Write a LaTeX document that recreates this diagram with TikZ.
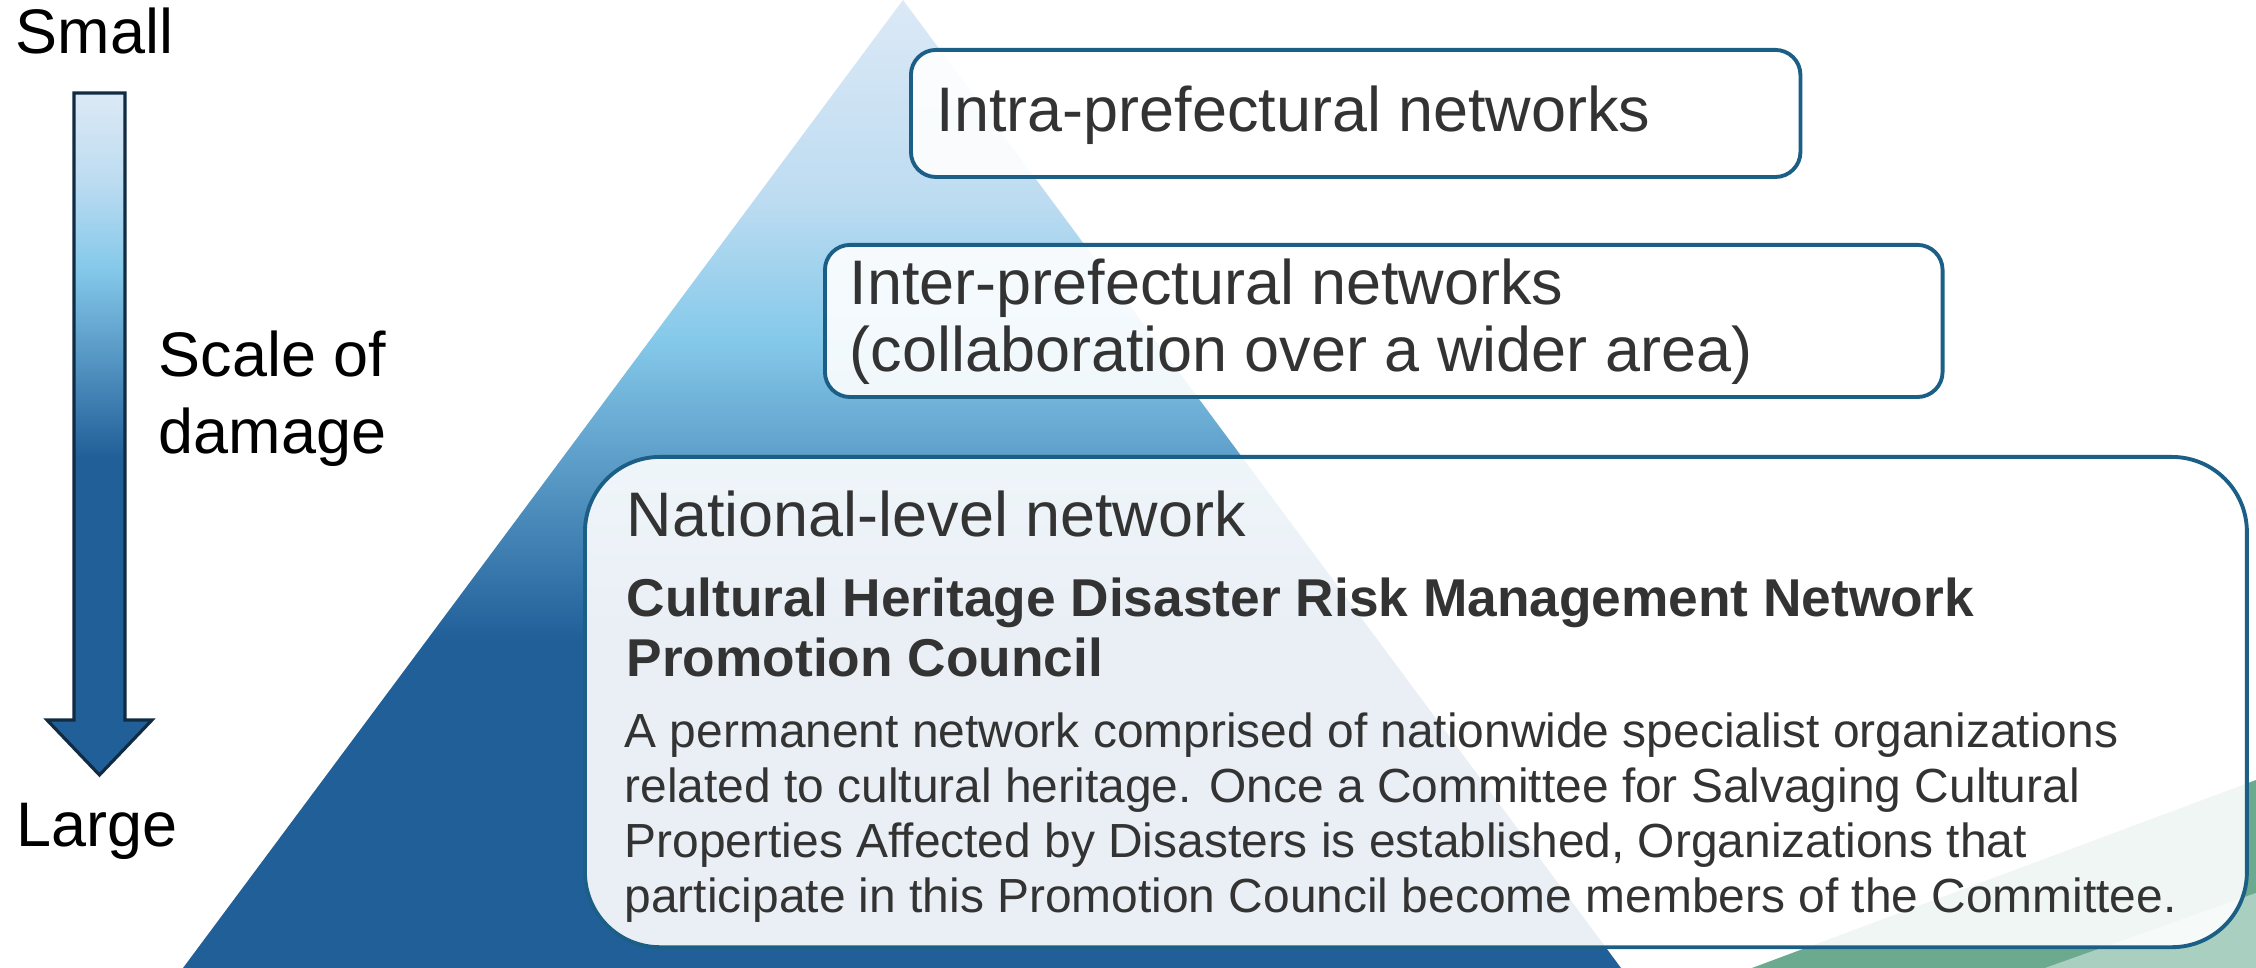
\documentclass[tikz,border=0pt]{standalone}
\usepackage{fontspec}
\setmainfont{Liberation Sans}

\definecolor{pyrtop}{HTML}{DCE9F6}
\definecolor{pyrpale}{HTML}{BDDCF1}
\definecolor{pyrsky}{HTML}{85C9EA}
\definecolor{pyrdark}{HTML}{215F99}
\definecolor{boxline}{HTML}{1B5F87}
\definecolor{arrline}{HTML}{102B42}
\definecolor{greendark}{HTML}{6BAA8F}
\definecolor{greenlight}{HTML}{A9CFC0}
\definecolor{textgray}{HTML}{333333}

\pgfdeclareverticalshading{pyramid}{100bp}{color(0bp)=(pyrdark); color(42bp)=(pyrdark);
  color(57.5bp)=(pyrsky); color(64.7bp)=(pyrpale); color(75bp)=(pyrtop); color(100bp)=(pyrtop)}
\pgfdeclareverticalshading{damage}{100bp}{color(0bp)=(pyrdark); color(48.3bp)=(pyrdark);
  color(62.2bp)=(pyrsky); color(68.6bp)=(pyrpale); color(75bp)=(pyrtop); color(100bp)=(pyrtop)}

\begin{document}
\begin{tikzpicture}[
  x=0.01cm, y=-0.01cm,
  netbox/.style={draw=boxline, line width=1.1pt, fill=white, fill opacity=0.9,
    rounded corners=0.25cm, anchor=north west, inner sep=0pt},
  boxtext/.style={anchor=base west, inner sep=0pt, text=textgray},
  sidetext/.style={anchor=base west, inner sep=0pt, font=\fontsize{17.9pt}{21.9pt}\selectfont},
  headfont/.style={font=\fontsize{17.9pt}{19.1pt}\selectfont}
]
\useasboundingbox (0,0) rectangle (2256,968);

\shade[shading=pyramid] (903,0) -- (1621,968) -- (183,968) -- cycle;
\fill[greendark] (2256,780) -- (2256,968) -- (1752,968) -- cycle;
\fill[greenlight] (2256,893) -- (2256,968) -- (2045,968) -- cycle;

% scale arrow
\shade[shading=damage, draw=arrline, line width=0.9pt]
  (74,93) -- (125,93) -- (125,720) -- (152,720) -- (99.5,775) -- (47,720) -- (74,720) -- cycle;
\node[sidetext] (small) at (15,54) {Small};
\node[sidetext] (large) at (16,847) {Large};
% multi-line nodes sit on their last baseline
\node[sidetext, align=left] (scale) at (158,454) {Scale of\\damage};

\node[netbox, minimum width=8.89cm, minimum height=1.27cm] (intra) at (909,48) {};
\node[netbox, minimum width=11.17cm, minimum height=1.52cm] (inter) at (823,243) {};
\node[netbox, rounded corners=0.75cm, minimum width=16.61cm, minimum height=4.9cm] (national) at (583,455) {};

\node[boxtext, headfont] (intratext) at ([shift={(27,84)}]intra.north west)
  {Intra-prefectural networks};
\node[boxtext, headfont, align=left] (intertext) at ([shift={(26,129)}]inter.north west)
  {Inter-prefectural networks\\(collaboration over a wider area)};
\node[boxtext, headfont] (nattitle) at ([shift={(43,82)}]national.north west)
  {National-level network};
\node[boxtext, align=left, font=\bfseries\fontsize{15.15pt}{17.1pt}\selectfont] (council)
  at ([shift={(43,222)}]national.north west)
  {Cultural Heritage Disaster Risk Management Network\\Promotion Council};
\node[boxtext, align=left, font=\fontsize{13.62pt}{15.65pt}\selectfont] (councildesc)
  at ([shift={(41,458)}]national.north west)
  {A permanent network comprised of nationwide specialist organizations\\
   related to cultural heritage. Once a Committee for Salvaging Cultural\\
   Properties Affected by Disasters is established, Organizations that\\
   participate in this Promotion Council become members of the Committee.};
\end{tikzpicture}
\end{document}
